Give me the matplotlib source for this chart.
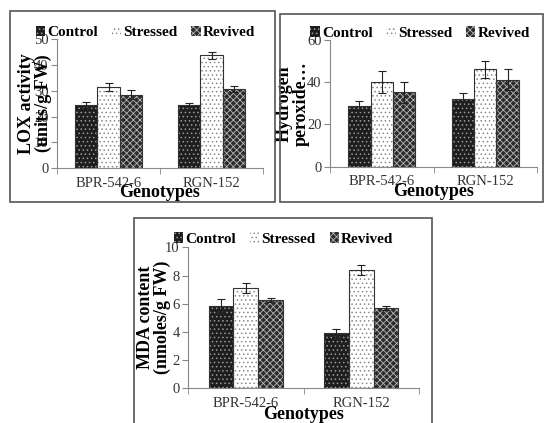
import matplotlib
matplotlib.use("Agg")
import matplotlib.pyplot as plt
import numpy as np
from matplotlib.patches import Patch, Rectangle

plt.rcParams["font.family"] = ["Liberation Serif", "DejaVu Serif"]
plt.rcParams["hatch.linewidth"] = 0.6

genotypes = ["BPR-542-6", "RGN-152"]
treatments = ["Control", "Stressed", "Revived"]

# LOX activity (units/g FW)
lox_mean = {"Control": [24.5, 24.5], "Stressed": [31.3, 43.7], "Revived": [28.5, 30.8]}
lox_err = {"Control": [1.0, 0.8], "Stressed": [1.5, 1.4], "Revived": [1.7, 1.2]}

# hydrogen peroxide
h2o2_mean = {"Control": [28.9, 32.1], "Stressed": [40.1, 46.1], "Revived": [35.2, 41.1]}
h2o2_err = {"Control": [2.4, 2.8], "Stressed": [5.2, 4.1], "Revived": [5.0, 5.0]}

# MDA content (nmoles/g FW)
mda_mean = {"Control": [5.86, 3.94], "Stressed": [7.09, 8.39], "Revived": [6.24, 5.72]}
mda_err = {"Control": [0.45, 0.28], "Stressed": [0.36, 0.35], "Revived": [0.14, 0.14]}

# face colour, hatch colour, hatch pattern for each treatment
styles = {
    "Control": ("#1e1e1e", "#9a9a9a", "...."),
    "Stressed": ("white", "#8a8a8a", "...."),
    "Revived": ("#2c2c2c", "#b8b8b8", "xxxxx"),
}

W, H = 544, 423
fig = plt.figure(figsize=(W / 100, H / 100), dpi=100)


def px_axes(left, right, bottom, top):
    # pixel box (from top-left corner) -> figure fraction axes
    return fig.add_axes([left / W, 1 - bottom / H, (right - left) / W, (bottom - top) / H])


def frame(left, top, right, bottom):
    fig.add_artist(Rectangle((left / W, 1 - bottom / H), (right - left) / W, (bottom - top) / H,
                             transform=fig.transFigure, fill=False, edgecolor="#555555", lw=1.2))


def panel(ax, means, errs, ymax, ystep, ylabel, ylab_x, leg_x, leg_y):
    x = np.arange(len(genotypes)) + 0.5
    width = 0.215
    for i, t in enumerate(treatments):
        face, hcol, hatch = styles[t]
        pos = x + (i - 1) * width
        ax.bar(pos, means[t], width, color=face, edgecolor=hcol, hatch=hatch, lw=0, zorder=2)
        ax.bar(pos, means[t], width, fill=False, edgecolor="#333333", lw=0.8, zorder=3)
        ax.errorbar(pos, means[t], yerr=errs[t], fmt="none", ecolor="#222222",
                    elinewidth=0.8, capsize=3, capthick=0.8, zorder=4)
    ax.set_xlim(0, len(genotypes))
    ax.set_ylim(0, ymax)
    ax.set_yticks(np.arange(0, ymax + ystep / 2, ystep))
    ax.set_xticks(x)
    ax.set_xticklabels(genotypes)
    ax.set_xticks(np.arange(len(genotypes) + 1), minor=True)
    ax.tick_params(axis="x", which="major", length=0, labelsize=10.5, colors="#333333", pad=6)
    ax.tick_params(axis="x", which="minor", length=4, color="#888888")
    ax.tick_params(axis="y", length=4, color="#888888", labelsize=10.5, labelcolor="#333333", pad=2)
    for s in ["top", "right"]:
        ax.spines[s].set_visible(False)
    for s in ["left", "bottom"]:
        ax.spines[s].set_color("#888888")
    ax.set_ylabel(ylabel, fontsize=13, fontweight="bold", linespacing=0.95)
    ax.yaxis.set_label_coords(ylab_x, 0.5)
    ax.set_xlabel("Genotypes", fontsize=13, fontweight="bold")
    ax.xaxis.set_label_coords(0.5, -0.125)
    handles = [Patch(facecolor=styles[t][0], edgecolor=styles[t][1], hatch=styles[t][2], lw=0)
               for t in treatments]
    ax.legend(handles, treatments, loc="center", bbox_to_anchor=(leg_x, leg_y), ncol=3,
              frameon=False, prop={"weight": "bold", "size": 11}, handlelength=0.6,
              handleheight=0.7, handletextpad=0.15, columnspacing=0.9, borderpad=0)


frame(10, 11, 275, 202)
frame(280, 14, 543, 202)
frame(134, 218, 432, 430)

ax1 = px_axes(57, 263, 168.3, 39)
panel(ax1, lox_mean, lox_err, 50, 10, "LOX activity\n(units/g FW)", -0.024, 0.43, 1.05)

ax2 = px_axes(330, 537, 166.7, 40)
panel(ax2, h2o2_mean, h2o2_err, 60, 20, "Hydrogen\nperoxide\u2026", -0.10, 0.435, 1.055)

ax3 = px_axes(188, 419, 388.3, 247.3)
panel(ax3, mda_mean, mda_err, 10, 2, "MDA content\n(nmoles/g FW)", -0.074, 0.415, 1.06)

fig.savefig("out.png", dpi=100)
